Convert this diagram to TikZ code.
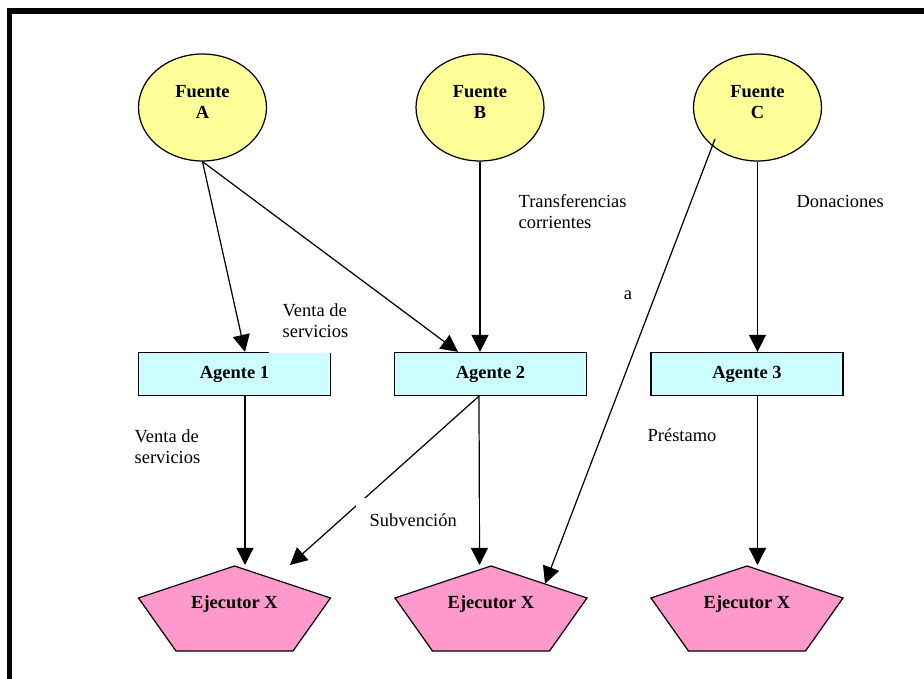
\documentclass[tikz,border=0pt]{standalone}
\usepackage{fontspec}
\setmainfont{Liberation Serif}
\usetikzlibrary{arrows.meta,shapes.geometric,calc}
\definecolor{amarillo}{HTML}{FFFF99}
\definecolor{celeste}{HTML}{CCFFFF}
\definecolor{rosa}{HTML}{FF99CC}

\begin{document}
\begin{tikzpicture}[x=0.02cm, y=-0.02cm, line width=0.7pt,
    fuente/.style={ellipse, draw, fill=amarillo, minimum width=2.56cm, minimum height=2.14cm,
        inner sep=0pt, align=center, text depth=6.5pt, font=\bfseries\fontsize{10.5pt}{12pt}\selectfont},
    agente/.style={rectangle, draw, fill=celeste, minimum width=3.84cm, minimum height=0.86cm,
        inner sep=0pt, font=\bfseries\fontsize{10.5pt}{12pt}\selectfont},
    ejecutor/.style={draw=black, fill=rosa, line join=miter},
    ejtxt/.style={inner sep=0pt, font=\bfseries\fontsize{10.5pt}{12pt}\selectfont},
    flecha/.style={-{Triangle[length=9.7pt,width=9.7pt]}},
    lbl/.style={fill=white, align=left, inner xsep=8pt, inner ysep=9pt, anchor=south west,
        font=\fontsize{10.5pt}{12pt}\selectfont}]
            \useasboundingbox (0,0) rectangle (924,679);
            \draw[line width=2.85pt] (9.5,679) -- (9.5,11) -- (924,11);

            \node[fuente] (fa) at (202.5,107.5) {Fuente\\A};
            \node[fuente] (fb) at (480,107.5) {Fuente\\B};
            \node[fuente] (fc) at (757.5,107.5) {Fuente\\C};

            \node[agente] (a1) at (234.5,374) {Agente 1};
            \node[agente] (a2) at (490.5,374) {Agente 2};
            \node[agente] (a3) at (747,374) {Agente 3};

            \foreach \i/\x in {1/234.5,2/491,3/747}{
                \filldraw[ejecutor] (\x,566) -- (\x+96,598) -- (\x+58.5,651) -- (\x-58.5,651) -- (\x-96,598) -- cycle;
                \node[ejtxt] (e\i) at (\x,603.7) {Ejecutor X};
                \coordinate (p\i) at (\x,565);
            }

            \draw[flecha] (fa.south) -- ($(a1.north)+(10.5,0)$);
            \draw[flecha] (fa.south) -- ($(a2.north)+(-32.5,0)$);
            \draw[flecha] (fb.south) -- (fb.south |- a2.north);
            \draw[flecha] (fc.south) -- (fc.south |- a3.north);
            \draw[flecha] ($(fc)+(-42.5,31.5)$) -- ($(e2)+(54,-20)$);
            \draw[flecha] ($(a1.south)+(10.5,0)$) -- ($(p1)+(10.5,0)$);
            \draw[flecha] ($(a2.south)+(-11.5,0)$) -- ($(p1)+(55.5,0)$);
            \draw[flecha] ($(a2.south)+(-11.5,0)$) -- ($(p2)+(-11.5,0)$);
            \draw[flecha] ($(a3.south)+(10.5,0)$) -- ($(p3)+(10.5,0)$);

            \node[lbl] (l1) at (268,354) {Venta de\\servicios};
            \node[lbl] (l2) at (120,480) {Venta de\\servicios};
            \node[lbl] (l3) at (504,245) {Transferencias\\corrientes};
            \node[lbl] (l4) at (782,224) {Donaciones};
            \node[lbl, anchor=base west, inner sep=0pt] (l5) at (623.3,299) {a};
            \node[lbl] (l6) at (633,458.5) {Préstamo};
            \node[lbl, text width=1.91cm] (l7) at (355,543) {Subvención};
\end{tikzpicture}
\end{document}
